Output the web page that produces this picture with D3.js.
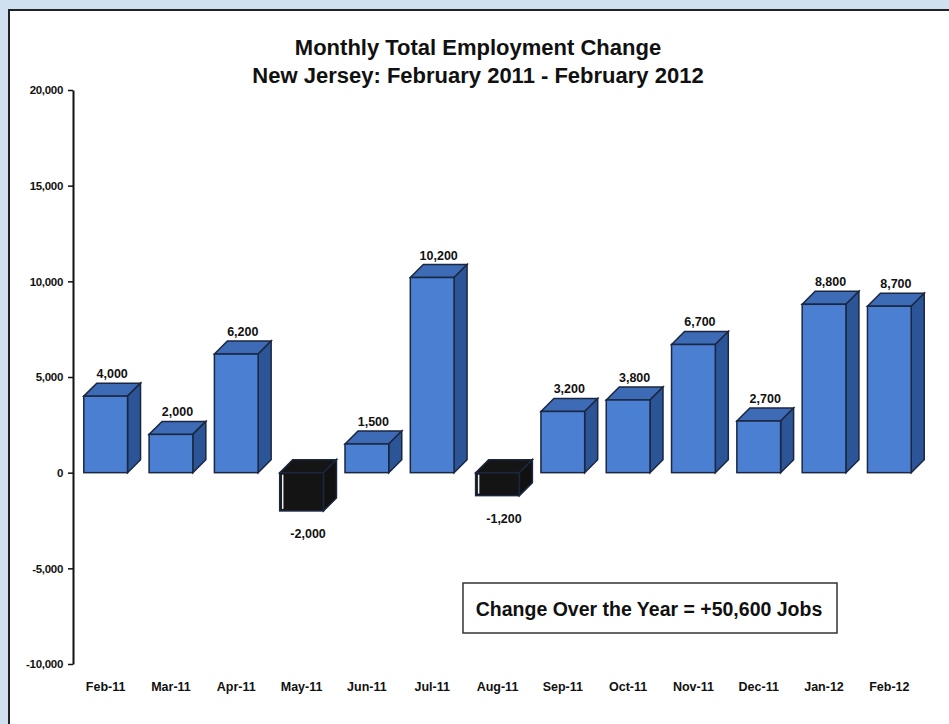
<!DOCTYPE html>
<html>
<head>
<meta charset="utf-8">
<script src="https://cdn.jsdelivr.net/npm/d3@7"></script>
<style>
  body { margin: 0; background: #cfe0f1; }
  text { font-family: "Liberation Sans Narrow", "Arial Narrow", "Liberation Sans", Arial, sans-serif; font-weight: bold; }
</style>
</head>
<body>
<svg id="chart"></svg>
<script>
let width = 949
let height = 724

let months = ["Feb-11", "Mar-11", "Apr-11", "May-11", "Jun-11", "Jul-11", "Aug-11",
  "Sep-11", "Oct-11", "Nov-11", "Dec-11", "Jan-12", "Feb-12"]
let changes = [4000, 2000, 6200, -2000, 1500, 10200, -1200, 3200, 3800, 6700, 2700, 8800, 8700]
let yTicks = [-10000, -5000, 0, 5000, 10000, 15000, 20000]
let titleLines = ["Monthly Total Employment Change", "New Jersey: February 2011 - February 2012"]
let note = "Change Over the Year = +50,600 Jobs"

// plain hyphen for negatives, like the original
let fmt = d3.formatLocale({ decimal: ".", thousands: ",", grouping: [3], currency: ["$", ""], minus: "-" }).format(",")

let svg = d3.select("#chart")
  .attr("width", width)
  .attr("height", height)

// white panel on the blue frame
svg.append("rect")
  .attr("x", 9).attr("y", 10)
  .attr("width", width).attr("height", height)
  .attr("fill", "#fff")
svg.append("path")
  .attr("d", `M9,${height} V10 H${width}`)
  .attr("fill", "none")
  .attr("stroke", "#222")
  .attr("stroke-width", 2)

let x = d3.scaleBand()
  .domain(months)
  .range([73, 922])
  .paddingInner(0.33)
  .paddingOuter(0.165)

let y = d3.scaleLinear()
  .domain([-10000, 20000])
  .range([664, 90])

let depth = 13

// y axis
let yAxis = svg.append("g")
  .attr("transform", "translate(73,0)")
  .call(d3.axisLeft(y).tickValues(yTicks).tickSize(5).tickSizeOuter(0)
    .tickFormat(fmt))
yAxis.select(".domain").attr("stroke", "#111").attr("stroke-width", 2)
yAxis.selectAll(".tick line").attr("stroke", "#111").attr("stroke-width", 1.5)
yAxis.selectAll(".tick text")
  .attr("font-size", 11.5)
  .attr("fill", "#111")
  .attr("x", -10)
  .style("font-family", "'Liberation Sans Narrow', 'Arial Narrow', Arial, sans-serif")
  .style("letter-spacing", "-0.3px")

// month labels
svg.append("g").selectAll("text")
  .data(months)
  .enter()
  .append("text")
  .attr("x", (d) => x(d) + x.bandwidth() / 2)
  .attr("y", 691)
  .attr("text-anchor", "middle")
  .attr("font-size", 12.5)
  .attr("fill", "#111")
  .text((d) => d)

let data = months.map((m, i) => ({ month: m, value: changes[i] }))

let bars = svg.append("g").selectAll("g")
  .data(data)
  .enter()
  .append("g")

function faces(d) {
  let x0 = x(d.month)
  let x1 = x0 + x.bandwidth()
  let yTop = Math.min(y(d.value), y(0))
  let yBot = Math.max(y(d.value), y(0))
  return { x0, x1, yTop, yBot }
}

let outline = "#1b2740"

// top face
bars.append("path")
  .attr("d", (d) => {
    let f = faces(d)
    return `M${f.x0},${f.yTop} L${f.x0 + depth},${f.yTop - depth} L${f.x1 + depth},${f.yTop - depth} L${f.x1},${f.yTop} Z`
  })
  .attr("fill", (d) => d.value < 0 ? "#151515" : "#3d6bb6")
  .attr("stroke", outline)
  .attr("stroke-width", 1.5)

// side face
bars.append("path")
  .attr("d", (d) => {
    let f = faces(d)
    return `M${f.x1},${f.yTop} L${f.x1 + depth},${f.yTop - depth} L${f.x1 + depth},${f.yBot - depth} L${f.x1},${f.yBot} Z`
  })
  .attr("fill", (d) => d.value < 0 ? "#111" : "#2c5597")
  .attr("stroke", outline)
  .attr("stroke-width", 1.5)

// front face
bars.append("rect")
  .attr("x", (d) => faces(d).x0)
  .attr("y", (d) => faces(d).yTop)
  .attr("width", x.bandwidth())
  .attr("height", (d) => faces(d).yBot - faces(d).yTop)
  .attr("fill", (d) => d.value < 0 ? "#141414" : "#4a7fd1")
  .attr("stroke", outline)
  .attr("stroke-width", 1.5)

// thin light streak seen on the dark (negative) boxes
bars.filter((d) => d.value < 0)
  .append("line")
  .attr("x1", (d) => faces(d).x0 + 3)
  .attr("x2", (d) => faces(d).x0 + 3)
  .attr("y1", (d) => faces(d).yTop + 2)
  .attr("y2", (d) => faces(d).yBot - 2)
  .attr("stroke", "#eee")
  .attr("stroke-width", 1.5)

// value labels
bars.append("text")
  .attr("x", (d) => x(d.month) + x.bandwidth() / 2 + depth / 2)
  .attr("y", (d) => d.value < 0 ? y(d.value) + 27 : y(d.value) - depth - 5)
  .attr("text-anchor", "middle")
  .attr("font-size", 12.5)
  .attr("fill", "#111")
  .text((d) => fmt(d.value))

// title
svg.append("g").selectAll("text")
  .data(titleLines)
  .enter()
  .append("text")
  .attr("x", 478)
  .attr("y", (d, i) => 55 + i * 28)
  .attr("text-anchor", "middle")
  .attr("font-size", 22)
  .attr("fill", "#111")
  .text((d) => d)

// annotation box
svg.append("rect")
  .attr("x", 463).attr("y", 583)
  .attr("width", 374).attr("height", 50)
  .attr("fill", "#fff")
  .attr("stroke", "#333")
  .attr("stroke-width", 1.5)
svg.append("text")
  .attr("x", 649).attr("y", 616)
  .attr("text-anchor", "middle")
  .attr("font-size", 19.5)
  .attr("fill", "#111")
  .style("font-family", "'Liberation Sans', Arial, sans-serif")
  .text(note)
</script>
</body>
</html>
